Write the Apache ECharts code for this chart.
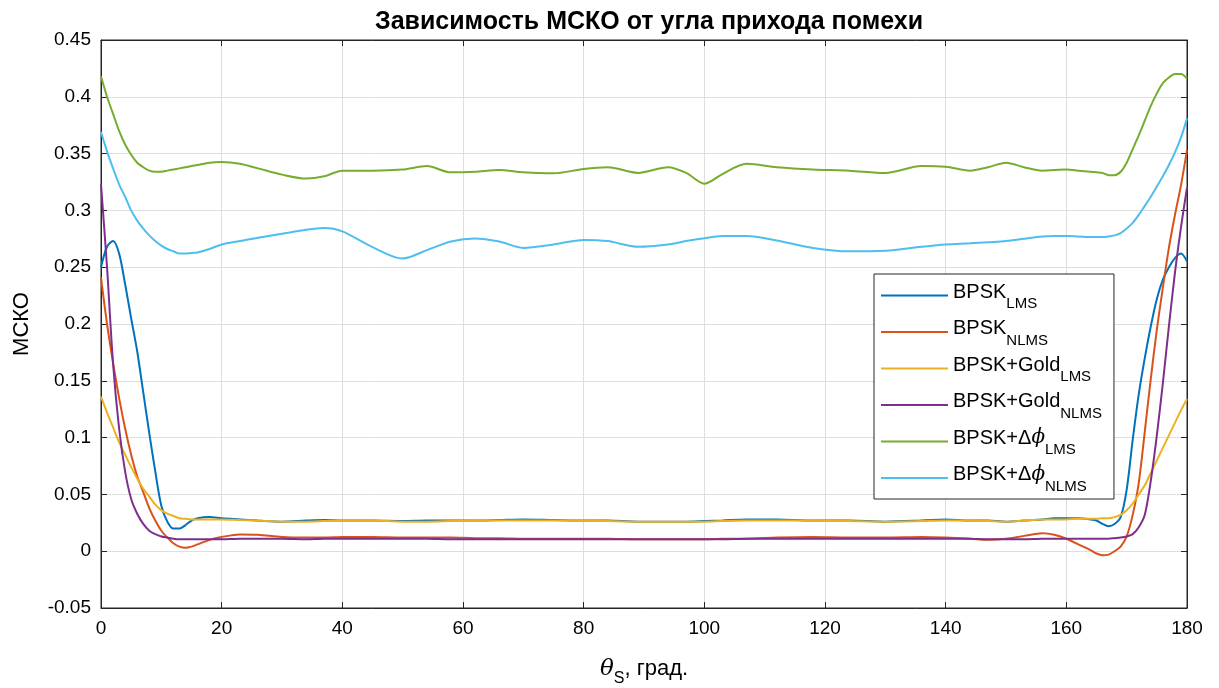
<!DOCTYPE html>
<html>
<head>
<meta charset="utf-8">
<title>Зависимость МСКО от угла прихода помехи</title>
<script src="https://cdn.jsdelivr.net/npm/echarts@6/dist/echarts.min.js"></script>
<style>
    html, body { margin: 0; padding: 0; background: #fff; }
    #chart { width: 1219px; height: 688px; }
</style>
</head>
<body>
<div id="chart"></div>
<script>
(function () {
    'use strict';

    // angle of arrival, degrees
    var angles = [0, 1, 2, 3, 4, 5, 6, 7, 8, 9, 10, 11, 12, 13, 14, 15, 16,
        18, 20, 23, 26, 30, 34, 37, 40,
        45, 50, 54, 58, 62, 66, 70, 75, 80, 84, 89, 94, 97, 100, 103, 107, 112, 118, 124, 130,
        136, 140, 144, 147, 150, 153, 156, 158, 160, 162, 164,
        165, 166, 167, 168, 169, 170, 171, 172, 173, 174, 175, 176, 177, 178, 179, 180];

    var bpskLms = [0.25, 0.268, 0.273, 0.262, 0.235, 0.205, 0.176, 0.14, 0.104, 0.07, 0.04, 0.026, 0.02, 0.02, 0.023, 0.027, 0.029,
        0.030, 0.029, 0.028, 0.027, 0.026, 0.027, 0.0275, 0.027,
        0.027, 0.0265, 0.027, 0.027, 0.027, 0.0275, 0.028, 0.0275, 0.027, 0.027, 0.026, 0.026, 0.026, 0.0265, 0.027, 0.028, 0.028, 0.027, 0.027, 0.026,
        0.027, 0.028, 0.027, 0.027, 0.026, 0.027, 0.028, 0.029, 0.029, 0.029, 0.028,
        0.027, 0.024, 0.022, 0.024, 0.03, 0.054, 0.098, 0.138, 0.17, 0.198, 0.222, 0.239, 0.25, 0.258, 0.262, 0.255];

    var bpskNlms = [0.241, 0.20, 0.166, 0.135, 0.108, 0.085, 0.066, 0.052, 0.038, 0.027, 0.018, 0.012, 0.007, 0.004, 0.003, 0.004, 0.006,
        0.010, 0.0125, 0.0148, 0.0145, 0.0125, 0.012, 0.012, 0.0125,
        0.0125, 0.012, 0.012, 0.012, 0.0115, 0.0115, 0.011, 0.011, 0.011, 0.011, 0.0105, 0.0105, 0.0105, 0.0105, 0.011, 0.011, 0.012, 0.0125, 0.012, 0.012,
        0.0125, 0.012, 0.011, 0.010, 0.011, 0.0135, 0.0158, 0.0145, 0.011, 0.006, 0.001,
        -0.002, -0.0035, -0.003, 0.0, 0.004, 0.013, 0.032, 0.06, 0.105, 0.152, 0.195, 0.232, 0.267, 0.296, 0.322, 0.353];

    var goldLms = [0.136, 0.122, 0.109, 0.096, 0.085, 0.074, 0.064, 0.055, 0.048, 0.041, 0.036, 0.033, 0.031, 0.029, 0.0285, 0.028, 0.028,
        0.028, 0.028, 0.0275, 0.027, 0.026, 0.026, 0.0265, 0.027,
        0.027, 0.026, 0.026, 0.0265, 0.027, 0.027, 0.027, 0.027, 0.027, 0.0265, 0.026, 0.026, 0.026, 0.026, 0.0265, 0.027, 0.027, 0.027, 0.0265, 0.026,
        0.0265, 0.027, 0.027, 0.0265, 0.026, 0.027, 0.028, 0.028, 0.028, 0.0285, 0.0285,
        0.0285, 0.029, 0.029, 0.030, 0.032, 0.036, 0.042, 0.050, 0.058, 0.069, 0.080, 0.091, 0.102, 0.113, 0.124, 0.134];

    var goldNlms = [0.323, 0.25, 0.165, 0.108, 0.07, 0.046, 0.033, 0.024, 0.018, 0.015, 0.013, 0.012, 0.011, 0.0105, 0.0105, 0.0105, 0.0105,
        0.0105, 0.0105, 0.011, 0.011, 0.011, 0.0105, 0.011, 0.011,
        0.011, 0.011, 0.011, 0.0105, 0.0105, 0.0105, 0.0105, 0.0105, 0.0105, 0.0105, 0.0105, 0.0105, 0.0105, 0.0105, 0.0105, 0.011, 0.011, 0.011, 0.011, 0.011,
        0.011, 0.011, 0.011, 0.0105, 0.0105, 0.0105, 0.011, 0.011, 0.011, 0.011, 0.011,
        0.011, 0.011, 0.011, 0.0115, 0.012, 0.013, 0.015, 0.021, 0.032, 0.062, 0.102, 0.148, 0.198, 0.245, 0.285, 0.32];

    var phaseLms = [0.418, 0.40, 0.385, 0.37, 0.358, 0.349, 0.342, 0.338, 0.335, 0.334, 0.334, 0.335, 0.336, 0.337, 0.338, 0.339, 0.340,
        0.342, 0.3425, 0.341, 0.337, 0.3315, 0.328, 0.330, 0.335,
        0.335, 0.336, 0.339, 0.3335, 0.334, 0.3355, 0.3335, 0.3326, 0.3365, 0.338, 0.333, 0.338, 0.333, 0.3235, 0.332, 0.341, 0.338, 0.336, 0.335, 0.333,
        0.339, 0.3385, 0.335, 0.338, 0.342, 0.338, 0.335, 0.3355, 0.336, 0.335, 0.334,
        0.3335, 0.333, 0.331, 0.331, 0.334, 0.342, 0.354, 0.366, 0.379, 0.392, 0.403, 0.412, 0.417, 0.420, 0.420, 0.416];

    var phaseNlms = [0.369, 0.352, 0.337, 0.323, 0.312, 0.300, 0.291, 0.284, 0.278, 0.273, 0.269, 0.266, 0.264, 0.262, 0.262, 0.2625, 0.263,
        0.266, 0.270, 0.273, 0.276, 0.2795, 0.283, 0.2845, 0.2815,
        0.2676, 0.2576, 0.265, 0.2726, 0.2753, 0.2726, 0.267, 0.270, 0.274, 0.273, 0.268, 0.270, 0.273, 0.2755, 0.2775, 0.2775, 0.2735, 0.267, 0.264, 0.2645,
        0.268, 0.270, 0.271, 0.272, 0.273, 0.275, 0.277, 0.2775, 0.2775, 0.277, 0.2765,
        0.2765, 0.2765, 0.277, 0.278, 0.280, 0.284, 0.289, 0.296, 0.304, 0.312, 0.321, 0.330, 0.340, 0.351, 0.364, 0.381];

    var seriesNames = ['BPSK_LMS', 'BPSK_NLMS', 'BPSK+Gold_LMS', 'BPSK+Gold_NLMS', 'BPSK+Δϕ_LMS', 'BPSK+Δϕ_NLMS'];
    var seriesValues = [bpskLms, bpskNlms, goldLms, goldNlms, phaseLms, phaseNlms];
    var colors = ['#0072BD', '#D95319', '#EDB120', '#7E2F8E', '#77AC30', '#4DBEEE'];

    var font = '"Liberation Sans", Arial, sans-serif';
    var serif = '"DejaVu Serif", serif';
    var axisColor = '#262626';

    var series = seriesNames.map(function (name, k) {
        return {
            name: name,
            type: 'line',
            smooth: 0.3,
            symbol: 'none',
            xAxisIndex: 0,
            yAxisIndex: 0,
            lineStyle: { width: 2, color: colors[k] },
            itemStyle: { color: colors[k] },
            data: angles.map(function (a, i) { return [a, seriesValues[k][i]]; })
        };
    });

    var legendRich = {
        n: { fontSize: 20, fontFamily: font, color: '#000', padding: [0, 0, 7, 0] },
        i: { fontSize: 20, fontFamily: serif, fontStyle: 'italic', color: '#000', padding: [0, 0, 7, 0] },
        s: { fontSize: 15, fontFamily: font, color: '#000', padding: [17, 0, 0, 0] }
    };

    var boxAxis = function (pos, min, max, interval) {
        return {
            type: 'value', position: pos,
            min: min, max: max, interval: interval,
            axisLine: { show: true, onZero: false, lineStyle: { color: axisColor } },
            axisTick: { inside: true, length: 6, lineStyle: { color: axisColor } },
            axisLabel: { show: false },
            splitLine: { show: false }
        };
    };

    var chart = echarts.init(document.getElementById('chart'));

    chart.setOption({
        animation: false,
        backgroundColor: '#fff',
        title: {
            text: 'Зависимость МСКО от угла прихода помехи',
            left: 644,
            textAlign: 'center',
            top: 5,
            textStyle: { fontFamily: font, fontSize: 25, fontWeight: 'bold', color: '#000' }
        },
        grid: {
            left: 101, right: 32, top: 40, bottom: 80,
            outerBoundsMode: 'none',
            containLabel: false,
            show: true, borderColor: axisColor, borderWidth: 1
        },
        legend: {
            orient: 'vertical',
            left: 874,
            top: 274,
            padding: [8, 12, 5, 7],
            itemGap: 7,
            itemWidth: 67,
            itemHeight: 2,
            itemTextGap: 6,
            icon: 'rect',
            backgroundColor: '#fff',
            borderColor: axisColor,
            borderWidth: 1,
            data: seriesNames,
            formatter: function (name) {
                var parts = name.split('_');
                var base = parts[0].replace('ϕ', '}{i|ϕ}{n|');
                return '{n|' + base + '}{s|' + parts[1] + '}';
            },
            textStyle: { rich: legendRich }
        },
        xAxis: [{
            type: 'value',
            min: 0, max: 180, interval: 20,
            name: '{i|θ}{s|S}{n|, град.}',
            nameLocation: 'middle',
            nameGap: 43,
            nameTextStyle: {
                rich: {
                    n: { fontSize: 22, fontFamily: font, color: '#000' },
                    i: { fontSize: 23, fontFamily: serif, fontStyle: 'italic', color: '#000' },
                    s: { fontSize: 16, fontFamily: font, color: '#000', padding: [20, 0, 0, 0] }
                }
            },
            axisLine: { show: true, onZero: false, lineStyle: { color: axisColor } },
            axisTick: { inside: true, length: 6, lineStyle: { color: axisColor } },
            axisLabel: { fontSize: 19, fontFamily: font, color: '#000', margin: 11 },
            splitLine: { show: true, lineStyle: { color: '#dedede', width: 1 } }
        }, boxAxis('top', 0, 180, 20)],
        yAxis: [{
            type: 'value',
            min: -0.05, max: 0.45, interval: 0.05,
            name: 'МСКО',
            nameLocation: 'middle',
            nameGap: 68,
            nameTextStyle: { fontSize: 22, fontFamily: font, color: '#000' },
            axisLine: { show: true, onZero: false, lineStyle: { color: axisColor } },
            axisTick: { inside: true, length: 6, lineStyle: { color: axisColor } },
            axisLabel: {
                fontSize: 19, fontFamily: font, color: '#000', margin: 10,
                formatter: function (v) { return String(Math.round(v * 100) / 100); }
            },
            splitLine: { show: true, lineStyle: { color: '#dedede', width: 1 } }
        }, boxAxis('right', -0.05, 0.45, 0.05)],
        series: series
    });
}());
</script>
</body>
</html>
